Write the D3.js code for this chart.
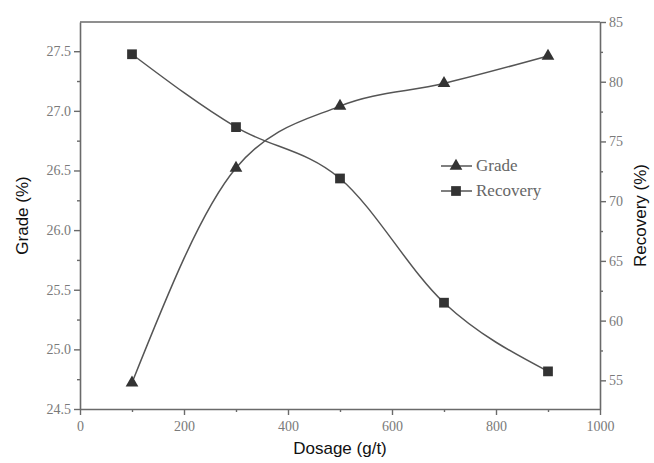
<!DOCTYPE html>
<html>
<head>
<meta charset="utf-8">
<script src="https://cdn.jsdelivr.net/npm/d3@7"></script>
<style>
  html, body { margin: 0; padding: 0; background: #fff; }
  svg { display: block; }
</style>
</head>
<body>
<svg id="chart" width="654" height="463"></svg>
<script>
// Flotation results versus collector dosage
const dosage = [100, 300, 500, 700, 900];
const grade = [24.72, 26.52, 27.04, 27.23, 27.46];
const recovery = [82.3, 76.2, 71.9, 61.5, 55.75];

const xTicks = [0, 200, 400, 600, 800, 1000];
const gradeTicks = [24.5, 25.0, 25.5, 26.0, 26.5, 27.0, 27.5];
const recoveryTicks = [55, 60, 65, 70, 75, 80, 85];
const seriesNames = ["Grade", "Recovery"];

const svg = d3.select("#chart");
const m = { left: 80, right: 600, top: 22, bottom: 409 };

const x = d3.scaleLinear().domain([0, 1000]).range([m.left, m.right]);
const yG = d3.scaleLinear().domain([24.5, 27.745]).range([m.bottom, m.top]);
const yR = d3.scaleLinear().domain([52.6, 85]).range([m.bottom, m.top]);

const axisColor = "#6a6a6a";
const labelColor = "#7a7a7a";
const serif = "'Liberation Serif', 'Times New Roman', serif";
const sans = "'Liberation Sans', Arial, sans-serif";

function styleAxis(g) {
  g.selectAll(".domain").attr("stroke", axisColor).attr("stroke-width", 1.6);
  g.selectAll(".tick line").attr("stroke", axisColor).attr("stroke-width", 1.4);
  g.selectAll(".tick text").attr("fill", labelColor)
    .style("font-family", serif).style("font-size", "14px");
}

// minor ticks
const minorX = d3.range(100, 1000, 200);
const minorG = d3.range(24.75, 27.7, 0.5);
const minorR = d3.range(57.5, 85, 5);

svg.append("g").attr("transform", `translate(0,${m.bottom})`)
  .call(d3.axisBottom(x).tickValues(minorX).tickSize(3).tickFormat(""))
  .call(g => g.select(".domain").remove())
  .call(styleAxis);
svg.append("g").attr("transform", `translate(${m.left},0)`)
  .call(d3.axisLeft(yG).tickValues(minorG).tickSize(3).tickFormat(""))
  .call(g => g.select(".domain").remove())
  .call(styleAxis);
svg.append("g").attr("transform", `translate(${m.right},0)`)
  .call(d3.axisRight(yR).tickValues(minorR).tickSize(3).tickFormat(""))
  .call(g => g.select(".domain").remove())
  .call(styleAxis);

// major axes
svg.append("g").attr("transform", `translate(0,${m.bottom})`)
  .call(d3.axisBottom(x).tickValues(xTicks).tickSize(6).tickSizeOuter(0).tickPadding(6).tickFormat(d3.format("d")))
  .call(styleAxis);
svg.append("g").attr("transform", `translate(${m.left},0)`)
  .call(d3.axisLeft(yG).tickValues(gradeTicks).tickSize(6).tickSizeOuter(0).tickPadding(3).tickFormat(d3.format(".1f")))
  .call(styleAxis);
svg.append("g").attr("transform", `translate(${m.right},0)`)
  .call(d3.axisRight(yR).tickValues(recoveryTicks).tickSize(6).tickSizeOuter(0).tickPadding(3).tickFormat(d3.format("d")))
  .call(styleAxis);

// top frame line
svg.append("line")
  .attr("x1", m.left).attr("x2", m.right).attr("y1", m.top).attr("y2", m.top)
  .attr("stroke", axisColor).attr("stroke-width", 1.6);

// axis titles
svg.append("text").attr("x", (m.left + m.right) / 2).attr("y", 454)
  .attr("text-anchor", "middle").style("font-family", sans).style("font-size", "17px")
  .attr("fill", "#111").text("Dosage (g/t)");
svg.append("text").attr("transform", `translate(28,${(m.top + m.bottom) / 2}) rotate(-90)`)
  .attr("text-anchor", "middle").style("font-family", sans).style("font-size", "17px")
  .attr("fill", "#111").text("Grade (%)");
svg.append("text").attr("transform", `translate(646,${(m.top + m.bottom) / 2}) rotate(-90)`)
  .attr("text-anchor", "middle").style("font-family", sans).style("font-size", "17px")
  .attr("fill", "#111").text("Recovery (%)");

const lineColor = "#555";
const markColor = "#333";

const gradeLine = d3.line().x((d, i) => x(dosage[i])).y(d => yG(d)).curve(d3.curveMonotoneX);
const recLine = d3.line().x((d, i) => x(dosage[i])).y(d => yR(d)).curve(d3.curveMonotoneX);

svg.append("path").datum(grade).attr("d", gradeLine)
  .attr("fill", "none").attr("stroke", lineColor).attr("stroke-width", 1.5);
svg.append("path").datum(recovery).attr("d", recLine)
  .attr("fill", "none").attr("stroke", lineColor).attr("stroke-width", 1.5);

const tri = d3.symbol().type(d3.symbolTriangle).size(70);
const sq = d3.symbol().type(d3.symbolSquare).size(95);

svg.append("g").selectAll("path").data(grade).join("path")
  .attr("d", tri)
  .attr("transform", (d, i) => `translate(${x(dosage[i])},${yG(d)})`)
  .attr("fill", markColor);
svg.append("g").selectAll("path").data(recovery).join("path")
  .attr("d", sq)
  .attr("transform", (d, i) => `translate(${x(dosage[i])},${yR(d)})`)
  .attr("fill", markColor);

// legend
const legend = svg.append("g").attr("transform", "translate(441,166)");
seriesNames.forEach((name, i) => {
  const row = legend.append("g").attr("transform", `translate(0,${i * 25})`);
  row.append("line").attr("x1", 0).attr("x2", 31).attr("stroke", lineColor).attr("stroke-width", 1.5);
  row.append("path").attr("d", i === 0 ? tri : sq)
    .attr("transform", "translate(15,0)").attr("fill", markColor);
  row.append("text").attr("x", 35).attr("y", 5)
    .style("font-family", serif).style("font-size", "17px")
    .attr("fill", "#666").text(name);
});
</script>
</body>
</html>
